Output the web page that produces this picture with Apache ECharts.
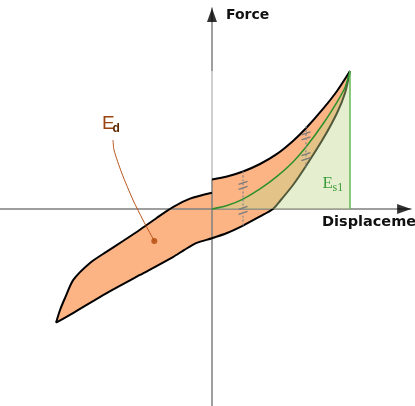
<!DOCTYPE html>
<html>
<head>
<meta charset="utf-8">
<script src="https://cdn.jsdelivr.net/npm/echarts@6/dist/echarts.min.js"></script>
<style>
  html, body { margin: 0; padding: 0; background: #fff; }
  #main { width: 415px; height: 406px; }
</style>
</head>
<body>
<div id="main"></div>
<script>
// hysteresis loop, displacement and force scaled so the peak is (1, 1)
const upperLeft = [[-1.130, -0.824], [-1.101, -0.732], [-1.065, -0.645], [-1.005, -0.514], [-0.884, -0.391],
  [-0.763, -0.309], [-0.645, -0.232], [-0.522, -0.150], [-0.401, -0.065], [-0.283, 0.013], [-0.159, 0.075], [0, 0.118]]
const upperRight = [[0, 0.214], [0.109, 0.236], [0.225, 0.272], [0.348, 0.326], [0.471, 0.399], [0.587, 0.493],
  [0.681, 0.585], [0.804, 0.725], [0.906, 0.855], [1, 1]]
const lowerRight = [[0, -0.212], [0.109, -0.174], [0.225, -0.120], [0.348, -0.054], [0.442, 0], [0.493, 0.058],
  [0.587, 0.174], [0.681, 0.312], [0.804, 0.507], [0.906, 0.696], [0.964, 0.841], [1, 1]]
const lowerLeft = [[0, -0.212], [-0.111, -0.246], [-0.200, -0.296], [-0.283, -0.348], [-0.522, -0.478], [-0.763, -0.609],
  [-1.007, -0.754], [-1.130, -0.824]]
// secant / mid curve (E_s1 boundary)
const midCurve = [[0, 0], [0.109, 0.025], [0.225, 0.072], [0.348, 0.145], [0.471, 0.236], [0.587, 0.341],
  [0.681, 0.449], [0.804, 0.616], [0.906, 0.775], [0.964, 0.88], [1, 1]]
const peak = [1, 1]
const measureLines = [
  [[0.225, 0.272], [0.225, -0.123]],
  [[0.681, 0.60], [0.681, 0.30]]
]
const hashMarks = [[0.225, 0.172], [0.225, -0.01], [0.681, 0.53], [0.681, 0.38]]
const leader = [[-0.717, 0.5], [-0.710, 0.428], [-0.654, 0.261], [-0.572, 0.065], [-0.5, -0.080], [-0.418, -0.232]]
// faded part of the force axis
const fadedAxis = [[0, 1], [0, 0.214]]

const xMin = -1.536, xMax = 1.442
const yMin = -1.4275, yMax = 1.4565

const chart = echarts.init(document.getElementById('main'), null, { renderer: 'canvas' })

function polygonSeries(points, fill, z) {
  return {
    type: 'custom',
    z: z,
    silent: true,
    data: [[0, 0]],
    renderItem: function (params, api) {
      return {
        type: 'polygon',
        shape: { points: points.map(p => api.coord(p)) },
        style: { fill: fill }
      }
    }
  }
}

function curveSeries(points, color, width, z, type) {
  return {
    type: 'line',
    data: points,
    z: z,
    silent: true,
    smooth: 0.25,
    showSymbol: false,
    lineStyle: { color: color, width: width, type: type || 'solid' }
  }
}

let loop = upperLeft.concat(upperRight, lowerRight.slice().reverse(), lowerLeft)
let lowerCurve = lowerLeft.slice().reverse().concat(lowerRight.slice(1))
let elasticArea = midCurve.concat([[peak[0], 0]])

let series = [
  polygonSeries(loop, '#fdb485', 1),
  curveSeries(fadedAxis, '#cfcfcf', 2, 3),
  curveSeries(upperLeft, '#000', 2, 3),
  curveSeries(upperRight, '#000', 2, 3),
  curveSeries(lowerCurve, '#000', 2, 3),
  polygonSeries(elasticArea, 'rgba(193,217,140,0.42)', 4),
  curveSeries(midCurve, '#2b902b', 1.5, 5),
  curveSeries([[peak[0], 0], peak], '#62b957', 1.5, 5),
  curveSeries(leader, '#b8561c', 1, 5),
  {
    type: 'scatter',
    data: [leader[leader.length - 1]],
    symbolSize: 6,
    itemStyle: { color: '#b0480a' },
    z: 6,
    silent: true
  },
  {
    type: 'custom',
    z: 6,
    silent: true,
    data: hashMarks,
    renderItem: function (params, api) {
      const p = api.coord([api.value(0), api.value(1)])
      const mark = function (k) {
        return {
          type: 'line',
          shape: { x1: p[0] - 4.5, y1: p[1] + k + 1.5, x2: p[0] + 4.5, y2: p[1] + k - 1.5 },
          style: { stroke: '#7a7a7a', lineWidth: 1.3 }
        }
      }
      return { type: 'group', children: [mark(-2.5), mark(2.5)] }
    }
  },
  {
    // axis arrows
    type: 'scatter',
    clip: false,
    silent: true,
    z: 7,
    data: [
      { value: [xMax - 0.05, 0], symbolRotate: -90 },
      { value: [0, yMax - 0.05], symbolRotate: 0 }
    ],
    symbol: 'triangle',
    symbolSize: [10, 14],
    itemStyle: { color: '#000' }
  }
]
measureLines.forEach(seg => series.push(curveSeries(seg, '#8a8a8a', 1.3, 6, [2, 2])))

let axisBase = {
  type: 'value',
  z: 2,
  axisLine: { onZero: true, lineStyle: { color: '#7f7f7f', width: 1.5 } },
  axisTick: { show: false },
  axisLabel: { show: false },
  splitLine: { show: false }
}

let option = {
  animation: false,
  backgroundColor: '#fff',
  grid: { left: 0, right: 4, top: 8, bottom: 0, containLabel: false, outerBoundsMode: 'none' },
  xAxis: Object.assign({}, axisBase, { min: xMin, max: xMax }),
  yAxis: Object.assign({}, axisBase, {
    min: yMin, max: yMax,
    name: 'Force',
    nameLocation: 'end',
    nameGap: -7,
    nameTextStyle: {
      fontFamily: 'DejaVu Sans', fontWeight: 'bold', fontSize: 14, color: '#111',
      align: 'left', verticalAlign: 'middle', padding: [0, 0, 0, 14]
    }
  }),
  graphic: [
    { type: 'text', x: 322, y: 222, z: 10, style: { text: 'Displacement', font: 'bold 14.5px "DejaVu Sans"', fill: '#111', verticalAlign: 'middle' } },
    { type: 'text', x: 102, y: 124, z: 10, style: { text: 'E', font: '19px "Liberation Sans"', fill: '#9a4510', verticalAlign: 'middle' } },
    { type: 'text', x: 112.5, y: 129, z: 10, style: { text: 'd', font: 'bold 12px "Liberation Sans"', fill: '#5c2800', verticalAlign: 'middle' } },
    { type: 'text', x: 322.5, y: 183.5, z: 10, style: { text: 'E', font: '17px "Liberation Serif"', fill: '#3c9c3c', verticalAlign: 'middle' } },
    { type: 'text', x: 332.5, y: 187.5, z: 10, style: { text: 's1', font: '12px "Liberation Serif"', fill: '#3c9c3c', verticalAlign: 'middle' } }
  ],
  series: series
}

chart.setOption(option)
</script>
</body>
</html>
